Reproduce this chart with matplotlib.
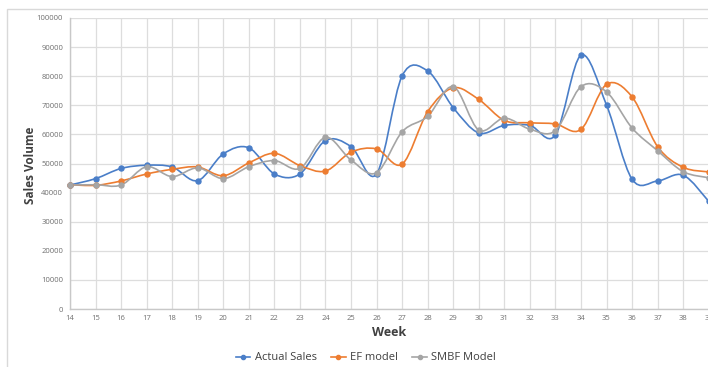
import matplotlib.pyplot as plt
import numpy as np
from matplotlib.path import Path
from matplotlib.patches import PathPatch, Rectangle
from matplotlib.lines import Line2D

plt.rcParams['font.family'] = ['Open Sans', 'DejaVu Sans']

# Data
weeks = list(range(14, 40))
actual_sales = [42600, 44800, 48300, 49400, 48800, 44100, 53300, 55400, 46400, 46400,
                57900, 55800, 46400, 80100, 81800, 69200, 60500, 63100, 63100, 59800,
                87200, 70100, 44600, 44000, 46000, 37000]
ef_model = [42700, 42500, 44000, 46400, 48000, 48800, 45800, 50200, 53500, 49300,
            47400, 53900, 55000, 49800, 67800, 76000, 72000, 64800, 64000, 63600,
            61700, 77200, 72900, 55800, 48700, 47100]
smbf_model = [42600, 42700, 42600, 48900, 45500, 48500, 44800, 48900, 51000, 48300,
              59000, 51200, 46800, 60900, 66200, 76400, 61500, 65600, 61800, 61300,
              76400, 74600, 62200, 54400, 47200, 45100]
labels = ['Actual Sales', 'EF model', 'SMBF Model']
colors = ['#4a7ec8', '#ed7d31', '#a5a5a5']


def smooth_path(x, y):
    # Excel-style smoothed line: cubic Bezier through every point
    p = np.column_stack([x, y]).astype(float)
    n = len(p)
    verts = [p[0]]
    codes = [Path.MOVETO]
    for i in range(n - 1):
        p0 = p[max(i - 1, 0)]
        p1 = p[i]
        p2 = p[i + 1]
        p3 = p[min(i + 2, n - 1)]
        verts += [p1 + (p2 - p0) / 6, p2 - (p3 - p1) / 6, p2]
        codes += [Path.CURVE4] * 3
    return Path(verts, codes)


fig = plt.figure(figsize=(7.08, 3.67), dpi=100)
ax = fig.add_axes([70 / 708, 58 / 367, 638.7 / 708, 291 / 367])

for vals, c in zip([actual_sales, ef_model, smbf_model], colors):
    ax.add_patch(PathPatch(smooth_path(weeks, vals), fill=False, edgecolor=c, lw=1.2, zorder=3))
    ax.plot(weeks, vals, linestyle='none', marker='o', markersize=3.6, color=c, zorder=4, clip_on=False)

ax.set_xlim(14, 39)
ax.set_ylim(0, 100000)
ax.set_xticks(weeks)
ax.set_yticks(np.arange(0, 100001, 10000))
ax.tick_params(length=0, labelsize=5.5, labelcolor='#6f6f6f')
ax.tick_params(axis='y', pad=5)
ax.tick_params(axis='x', pad=4)

ax.grid(True, color='#dddddd', linewidth=0.9)
ax.set_axisbelow(True)
for s in ['top', 'right']:
    ax.spines[s].set_visible(False)
for s in ['left', 'bottom']:
    ax.spines[s].set_color('#c8c8c8')
    ax.spines[s].set_linewidth(1.0)

fig.text(30 / 708, 1 - 165 / 367, 'Sales Volume', rotation=90, ha='center', va='center',
         fontsize=8.5, fontweight='bold', color='#404040')
fig.text(389 / 708, 1 - 333 / 367, 'Week', ha='center', va='center',
         fontsize=9, fontweight='bold', color='#404040')

handles = [Line2D([], [], color=c, lw=1.2, marker='o', markersize=3) for c in colors]
fig.legend(handles, labels, loc='center', bbox_to_anchor=(366 / 708, 1 - 358 / 367), ncol=3,
           frameon=False, fontsize=8, handlelength=1.3, handletextpad=0.4, columnspacing=1.3,
           labelcolor='#404040')

# chart area border
fig.add_artist(Rectangle((7 / 708, -0.1), 1.0, 1.1 - 9 / 367, transform=fig.transFigure,
                         fill=False, edgecolor='#d9d9d9', lw=1.0))

fig.savefig('out.png', dpi=100)
